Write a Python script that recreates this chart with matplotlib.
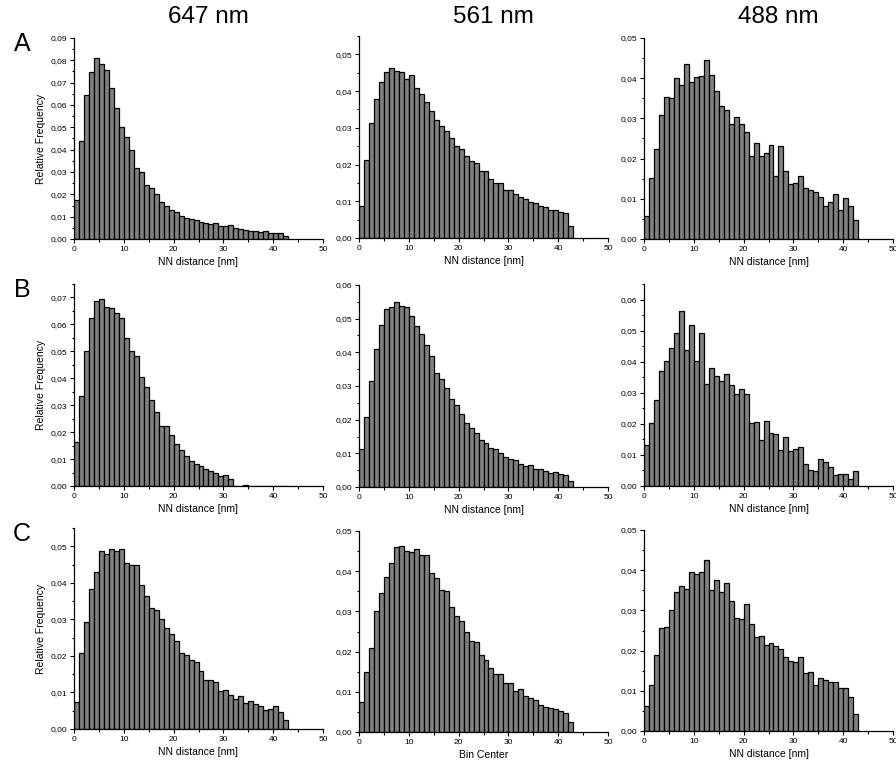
import numpy as np
import matplotlib
matplotlib.use("Agg")
import matplotlib.pyplot as plt
from matplotlib.ticker import MultipleLocator, FuncFormatter

plt.rcParams['font.family'] = ['Liberation Sans', 'DejaVu Sans']

# bin left edges, 1 nm wide
bins = np.arange(43)

a_647 = [0.0175, 0.0438, 0.0645, 0.0748, 0.0810, 0.0784, 0.0756, 0.0678, 0.0586, 0.0500,
         0.0457, 0.0398, 0.0317, 0.0298, 0.0240, 0.0228, 0.0203, 0.0165, 0.0146, 0.0128,
         0.0119, 0.0104, 0.0095, 0.0091, 0.0086, 0.0076, 0.0070, 0.0069, 0.0072, 0.0060,
         0.0057, 0.0064, 0.0048, 0.0043, 0.0040, 0.0037, 0.0036, 0.0033, 0.0037, 0.0025,
         0.0027, 0.0028, 0.0012]
a_561 = [0.0088, 0.0213, 0.0312, 0.0379, 0.0425, 0.0453, 0.0464, 0.0456, 0.0453, 0.0433,
         0.0444, 0.0409, 0.0392, 0.0370, 0.0345, 0.0322, 0.0305, 0.0292, 0.0272, 0.0251,
         0.0242, 0.0222, 0.0209, 0.0203, 0.0182, 0.0182, 0.0160, 0.0149, 0.0149, 0.0130,
         0.0132, 0.0119, 0.0111, 0.0107, 0.0099, 0.0096, 0.0087, 0.0085, 0.0077, 0.0075,
         0.0072, 0.0068, 0.0034]
a_488 = [0.0057, 0.0152, 0.0224, 0.0309, 0.0352, 0.0350, 0.0401, 0.0384, 0.0436, 0.0390,
         0.0403, 0.0406, 0.0446, 0.0407, 0.0369, 0.0330, 0.0321, 0.0285, 0.0304, 0.0286,
         0.0267, 0.0207, 0.0240, 0.0207, 0.0215, 0.0235, 0.0156, 0.0231, 0.0170, 0.0136,
         0.0139, 0.0156, 0.0126, 0.0121, 0.0116, 0.0104, 0.0082, 0.0092, 0.0113, 0.0072,
         0.0102, 0.0083, 0.0047]
b_647 = [0.0165, 0.0336, 0.0500, 0.0622, 0.0688, 0.0694, 0.0665, 0.0660, 0.0643, 0.0622,
         0.0551, 0.0501, 0.0484, 0.0403, 0.0368, 0.0320, 0.0274, 0.0224, 0.0224, 0.0188,
         0.0155, 0.0132, 0.0113, 0.0092, 0.0083, 0.0074, 0.0062, 0.0055, 0.0047, 0.0037,
         0.0040, 0.0027, 0.0, 0.0, 0.0002, 0.0, 0.0, 0.0, 0.0, 0.0,
         0.0, 0.0, 0.0]
b_561 = [0.0112, 0.0208, 0.0314, 0.0411, 0.0482, 0.0529, 0.0536, 0.0550, 0.0539, 0.0535,
         0.0508, 0.0478, 0.0455, 0.0423, 0.0389, 0.0338, 0.0321, 0.0293, 0.0260, 0.0244,
         0.0216, 0.0191, 0.0176, 0.0159, 0.0139, 0.0130, 0.0117, 0.0112, 0.0100, 0.0088,
         0.0083, 0.0080, 0.0067, 0.0062, 0.0064, 0.0053, 0.0052, 0.0048, 0.0042, 0.0045,
         0.0038, 0.0035, 0.0017]
b_488 = [0.0133, 0.0202, 0.0278, 0.0371, 0.0401, 0.0445, 0.0491, 0.0563, 0.0437, 0.0517,
         0.0401, 0.0492, 0.0329, 0.0381, 0.0355, 0.0339, 0.0359, 0.0326, 0.0295, 0.0312,
         0.0296, 0.0202, 0.0206, 0.0149, 0.0210, 0.0169, 0.0166, 0.0117, 0.0159, 0.0113,
         0.0119, 0.0125, 0.0071, 0.0052, 0.0047, 0.0087, 0.0077, 0.0061, 0.0037, 0.0040,
         0.0040, 0.0023, 0.0048]
c_647 = [0.0075, 0.0209, 0.0292, 0.0384, 0.0429, 0.0486, 0.0478, 0.0492, 0.0488, 0.0493,
         0.0454, 0.0449, 0.0448, 0.0393, 0.0363, 0.0330, 0.0326, 0.0301, 0.0276, 0.0261,
         0.0241, 0.0209, 0.0203, 0.0189, 0.0184, 0.0158, 0.0134, 0.0134, 0.0128, 0.0105,
         0.0108, 0.0093, 0.0082, 0.0091, 0.0071, 0.0077, 0.0069, 0.0062, 0.0052, 0.0055,
         0.0062, 0.0047, 0.0024]
c_561 = [0.0075, 0.0149, 0.0209, 0.0300, 0.0347, 0.0385, 0.0420, 0.0459, 0.0462, 0.0450,
         0.0449, 0.0455, 0.0440, 0.0440, 0.0396, 0.0384, 0.0353, 0.0350, 0.0311, 0.0289,
         0.0276, 0.0250, 0.0226, 0.0224, 0.0191, 0.0180, 0.0159, 0.0145, 0.0145, 0.0122,
         0.0123, 0.0103, 0.0108, 0.0089, 0.0085, 0.0079, 0.0068, 0.0062, 0.0060, 0.0056,
         0.0052, 0.0048, 0.0024]
c_488 = [0.0062, 0.0114, 0.0189, 0.0256, 0.0258, 0.0302, 0.0346, 0.0360, 0.0353, 0.0395,
         0.0391, 0.0395, 0.0425, 0.0350, 0.0375, 0.0346, 0.0368, 0.0324, 0.0282, 0.0278,
         0.0316, 0.0265, 0.0233, 0.0236, 0.0215, 0.0218, 0.0212, 0.0205, 0.0184, 0.0175,
         0.0171, 0.0184, 0.0144, 0.0146, 0.0115, 0.0133, 0.0126, 0.0122, 0.0122, 0.0106,
         0.0107, 0.0084, 0.0042]

columns = ["647 nm", "561 nm", "488 nm"]
rows = ["A", "B", "C"]
data = [[a_647, a_561, a_488],
        [b_647, b_561, b_488],
        [c_647, c_561, c_488]]
ytops = [[0.09, 0.055, 0.05],
         [0.075, 0.06, 0.065],
         [0.055, 0.05, 0.05]]
xlabels = [["NN distance [nm]"] * 3,
           ["NN distance [nm]"] * 3,
           ["NN distance [nm]", "Bin Center", "NN distance [nm]"]]

W, H = 896, 763
fig = plt.figure(figsize=(W / 100, H / 100), dpi=100)

# axes boxes in pixels: left, top, bottom
lefts = [74, 359, 644]
tops = [[38, 36, 38], [284, 285, 284], [528, 531, 530]]
bottoms = [[239, 238, 239], [486, 487, 486], [729, 732, 731]]
width = 249

comma = FuncFormatter(lambda v, p: ("%.2f" % v).replace(".", ","))

for r in range(3):
    for c in range(3):
        top, bot = tops[r][c], bottoms[r][c]
        ax = fig.add_axes([lefts[c] / W, 1 - bot / H, width / W, (bot - top) / H])
        ax.bar(bins, data[r][c], width=1.0, align="edge",
               color="#808080", edgecolor="black", linewidth=0.9)
        ax.set_xlim(0, 50)
        ax.set_ylim(0, ytops[r][c])
        for s in ["top", "right"]:
            ax.spines[s].set_visible(False)
        for s in ["left", "bottom"]:
            ax.spines[s].set_linewidth(0.9)
        ax.xaxis.set_major_locator(MultipleLocator(10))
        ax.xaxis.set_minor_locator(MultipleLocator(5))
        ax.yaxis.set_major_locator(MultipleLocator(0.01))
        ax.yaxis.set_minor_locator(MultipleLocator(0.005))
        ax.yaxis.set_major_formatter(comma)
        ax.tick_params(which="major", direction="out", length=3, width=0.8,
                       labelsize=6, pad=2)
        ax.tick_params(which="minor", direction="out", length=1.8, width=0.8)
        ax.set_xlabel(xlabels[r][c], fontsize=7.5, labelpad=3)
        if c == 0:
            ax.set_ylabel("Relative Frequency", fontsize=7.5, labelpad=3)
            fig.text(22 / W, 1 - (top + 6) / H, rows[r], fontsize=18,
                     ha="center", va="center")
        if r == 0:
            fig.text((lefts[c] + width / 2 + 10) / W, 1 - 17 / H, columns[c],
                     fontsize=17.5, ha="center", va="center")

fig.savefig("out.png", dpi=100)
